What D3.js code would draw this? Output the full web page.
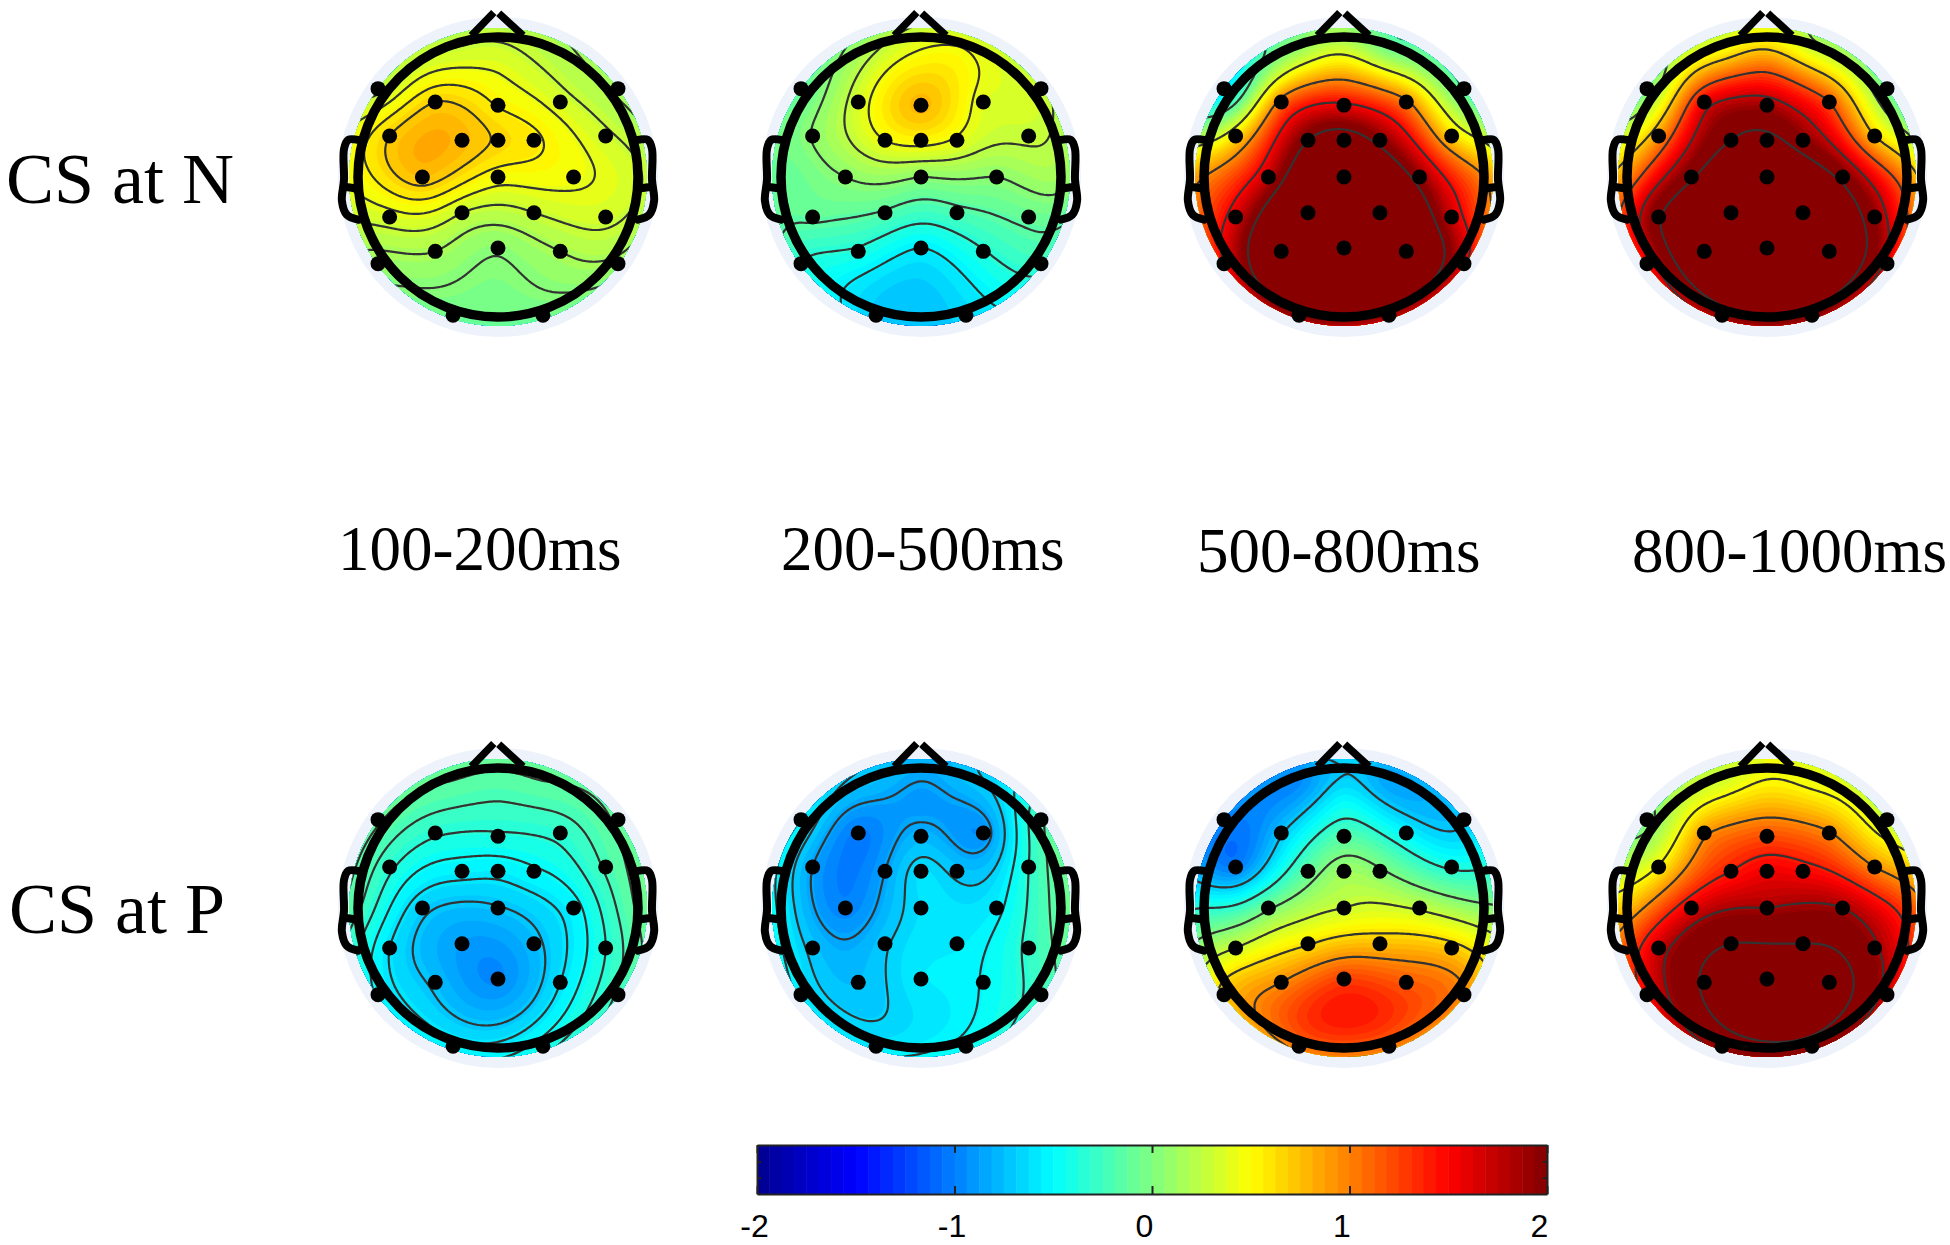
<!DOCTYPE html>
<html>
<head>
<meta charset="utf-8">
<script src="https://cdn.jsdelivr.net/npm/d3@7"></script>
<style>
  body { margin: 0; background: #fff; }
  text { fill: #000; }
</style>
</head>
<body>
<div class="canvas"></div>
<script>
// electrode sites, in head radii from the head centre (x right, y down)
const siteX = [-0.857, 0.857, -0.448, 0, 0.445, -0.774, -0.257, 0, 0.257, 0.769, -0.54, 0, 0.54, -0.774, -0.257, 0.257, 0.769, -0.448, 0, 0.445, -0.857, 0.857, -0.321, 0.321];
const siteY = [-0.631, -0.631, -0.536, -0.512, -0.536, -0.293, -0.262, -0.262, -0.262, -0.293, 0, 0, 0, 0.286, 0.255, 0.255, 0.286, 0.531, 0.507, 0.531, 0.619, 0.619, 0.988, 0.988];
// points without a dot: frontal left/right, temporal left/right, top middle
const rimX = [-0.321, 0.321, -1, 1, 0];
const rimY = [-0.95, -0.95, 0, 0, -0.78];

const rowLabels = ["CS at N", "CS at P"];
const timeLabels = ["100-200ms", "200-500ms", "500-800ms", "800-1000ms"];
const barTicks = [-2, -1, 0, 1, 2];

// one value per site, then the five points without a dot
const csN100 = [0.25, 0.13, 0.68, 0.54, 0.35, 0.68, 0.78, 0.66, 0.58, 0.32, 0.75, 0.48, 0.45, 0.36, 0.29, 0.29, 0.33, 0.16, 0.05, 0.16, 0.1, 0.12, -0.05, -0.05, 0.27, 0.22, 0.48, 0.31, 0.4];
const csN200 = [-0.1, 0.3, 0.35, 0.78, 0.38, 0.06, 0.45, 0.52, 0.42, 0.28, 0.05, 0.05, 0.05, -0.12, -0.17, -0.2, -0.1, -0.38, -0.55, -0.36, -0.35, -0.28, -0.7, -0.65, 0.2, 0.42, -0.1, 0.13, 0.58];
const csN500 = [-0.6, -0.15, 1.05, 1.55, 1, 0.6, 2.1, 2.3, 2, 0.65, 1.75, 2.7, 1.95, 1.65, 2.9, 2.9, 1.7, 2.8, 3, 2.8, 1.5, 1.6, 2, 1.9, 0.05, -0.1, 0.95, 0.95, 0.68];
const csN800 = [0, -0.05, 1.55, 1.85, 1.2, 0.9, 2.2, 2.3, 2, 0.7, 2.15, 2.7, 2.1, 2.15, 2.9, 2.9, 1.95, 2.8, 3, 2.8, 1.5, 1.6, 1.95, 2, 0.4, 0.25, 0.95, 0.95, 1.1];
const csP100 = [-0.1, -0.1, -0.34, -0.38, -0.32, -0.33, -0.55, -0.56, -0.5, -0.22, -0.68, -0.73, -0.53, -0.6, -0.88, -0.76, -0.36, -0.75, -0.95, -0.6, -0.5, -0.22, -0.55, -0.42, -0.1, -0.1, -0.22, -0.1, -0.23];
const csP200 = [-0.52, -0.2, -1.02, -0.78, -0.92, -0.85, -0.85, -0.62, -0.72, -0.34, -0.98, -0.62, -0.55, -0.72, -0.7, -0.57, -0.3, -0.75, -0.57, -0.5, -0.55, -0.25, -0.58, -0.46, -0.72, -0.72, -0.55, -0.1, -0.9];
const csP500 = [-0.95, -0.7, -0.72, -0.18, -0.52, -1, -0.12, 0.12, 0.03, -0.38, -0.03, 0.3, 0.27, 0.3, 0.6, 0.75, 0.7, 0.95, 1.25, 1.15, 0.7, 0.95, 1.05, 1.05, -0.95, -0.85, -0.35, 0.05, -0.52];
const csP800 = [0, 0.3, 0.9, 1.2, 0.97, 0.52, 1.4, 1.55, 1.5, 0.95, 1.6, 1.85, 1.85, 1.7, 2.3, 2.3, 1.9, 2.35, 2.6, 2.55, 1.5, 1.7, 2, 2.1, 0.3, 0.4, 0.75, 1.25, 0.7];

// contour levels of each map
const levelsN100 = [0.03, 0.16, 0.29, 0.42, 0.55, 0.68];
const levelsN200 = [-0.55, -0.35, -0.15, 0.05, 0.25, 0.45];
const levelsN500 = [-0.15, 0.4, 0.95, 1.5, 2.1];
const levelsN800 = [0.2, 0.7, 1.2, 1.7, 2.2];
const levelsP100 = [-0.72, -0.6, -0.48, -0.36, -0.24, -0.12];
const levelsP200 = [-0.85, -0.68, -0.51, -0.34, -0.17];
const levelsP500 = [-0.7, -0.35, 0, 0.3, 0.62, 0.95];
const levelsP800 = [0.05, 0.5, 0.95, 1.4, 1.85, 2.3];

const maps = [
  { row: 0, col: 0, values: csN100, levels: levelsN100 },
  { row: 0, col: 1, values: csN200, levels: levelsN200 },
  { row: 0, col: 2, values: csN500, levels: levelsN500 },
  { row: 0, col: 3, values: csN800, levels: levelsN800 },
  { row: 1, col: 0, values: csP100, levels: levelsP100 },
  { row: 1, col: 1, values: csP200, levels: levelsP200 },
  { row: 1, col: 2, values: csP500, levels: levelsP500 },
  { row: 1, col: 3, values: csP800, levels: levelsP800 },
];

const dims = { width: 1950, height: 1245, radius: 140 };
const colX = d3.scalePoint().domain([0, 1, 2, 3]).range([498, 1767]);
const rowY = d3.scalePoint().domain([0, 1]).range([177, 908]);

const svg = d3
  .select(".canvas")
  .append("svg")
  .attr("width", dims.width)
  .attr("height", dims.height)
  .style("display", "block");

const defs = svg.append("defs");
defs
  .append("clipPath")
  .attr("id", "disc")
  .append("circle")
  .attr("r", 149);

// jet, cut into 64 flat steps like the matlab colormap
const jet = d3
  .scaleLinear()
  .domain([-2, -1.5, -0.5, 0.5, 1.5, 2])
  .range(["#00008f", "#0000ff", "#00ffff", "#ffff00", "#ff0000", "#800000"])
  .clamp(true);
const steps = 64;
const stepEdges = d3.range(steps).map((i) => -2 + (i * 4) / steps);
const stepColor = (edge) => jet(edge + 2 / steps);

// biharmonic spline, same idea as griddata v4 that eeglab topoplot uses
const green = (r) => (r > 0 ? r * r * (Math.log(r) - 1) : 0);

const solve = (A, b) => {
  const n = b.length;
  const M = A.map((row, i) => [...row, b[i]]);
  for (let c = 0; c < n; c++) {
    let p = c;
    for (let r = c + 1; r < n; r++) {
      if (Math.abs(M[r][c]) > Math.abs(M[p][c])) p = r;
    }
    [M[c], M[p]] = [M[p], M[c]];
    for (let r = c + 1; r < n; r++) {
      const f = M[r][c] / M[c][c];
      for (let k = c; k <= n; k++) M[r][k] -= f * M[c][k];
    }
  }
  const w = new Array(n).fill(0);
  for (let r = n - 1; r >= 0; r--) {
    let s = M[r][n];
    for (let k = r + 1; k < n; k++) s -= M[r][k] * w[k];
    w[r] = s / M[r][r];
  }
  return w;
};

const allX = [...siteX, ...rimX];
const allY = [...siteY, ...rimY];
const gridN = 170;
const gridExtent = 1.1;
const gridToUnit = d3.scaleLinear().domain([0, gridN - 1]).range([-gridExtent, gridExtent]);

const makeField = (values) => {
  const G = allX.map((xi, i) =>
    allX.map((xj, j) => green(Math.hypot(xi - xj, allY[i] - allY[j])))
  );
  const w = solve(G, values);
  const field = new Float64Array(gridN * gridN);
  for (let j = 0; j < gridN; j++) {
    for (let i = 0; i < gridN; i++) {
      const u = gridToUnit(i);
      const v = gridToUnit(j);
      let z = 0;
      for (let k = 0; k < w.length; k++) {
        z += w[k] * green(Math.hypot(u - allX[k], v - allY[k]));
      }
      field[j * gridN + i] = z;
    }
  }
  return field;
};

const unit = d3.scaleLinear().domain([-1, 1]).range([-dims.radius, dims.radius]);
const cell = (unit(gridExtent) - unit(-gridExtent)) / (gridN - 1);
const gridPath = d3.geoPath(
  d3.geoIdentity().scale(cell).translate([unit(-gridExtent) - cell / 2, unit(-gridExtent) - cell / 2])
);

const headLine = d3
  .line()
  .x((d) => unit(d[0]))
  .y((d) => unit(d[1]))
  .curve(d3.curveCatmullRom.alpha(0.5));

// head outline pieces
const noseLeft = [[-0.19, -1.01], [-0.03, -1.175]];
const noseRight = [[0.005, -1.17], [0.179, -1.01]];
const earLeft = [[-1.0, -0.265], [-1.07, -0.265], [-1.1, -0.2], [-1.1, 0.02], [-1.115, 0.17], [-1.08, 0.27], [-1.0, 0.305]];
const earLeftBridge = [[-1.1, 0.07], [-1.02, 0.08]];
const mirror = (pts) => pts.map((d) => [-d[0], d[1]]);

maps.forEach((m) => {
  const g = svg
    .append("g")
    .attr("transform", `translate(${colX(m.col)}, ${rowY(m.row)})`);

  g.append("circle").attr("r", 160).attr("fill", "#eef3fb");

  const field = makeField(m.values);
  const contours = d3.contours().size([gridN, gridN]);
  const disc = g.append("g").attr("clip-path", "url(#disc)");

  disc
    .selectAll("path.band")
    .data(contours.thresholds([-99, ...stepEdges.slice(1)])(field))
    .enter()
    .append("path")
    .attr("class", "band")
    .attr("d", gridPath)
    .attr("fill", (d) => stepColor(d.value === -99 ? -2 : d.value));

  disc
    .selectAll("path.level")
    .data(contours.thresholds(m.levels)(field))
    .enter()
    .append("path")
    .attr("class", "level")
    .attr("d", gridPath)
    .attr("fill", "none")
    .attr("stroke", "#333")
    .attr("stroke-width", 2.2);

  g.append("circle")
    .attr("r", dims.radius)
    .attr("fill", "none")
    .attr("stroke", "#000")
    .attr("stroke-width", 9.5);

  [noseLeft, noseRight].forEach((pts) => {
    g.append("path")
      .attr("d", headLine(pts))
      .attr("fill", "none")
      .attr("stroke", "#000")
      .attr("stroke-width", 7.5);
  });
  [earLeft, mirror(earLeft), earLeftBridge, mirror(earLeftBridge)].forEach((pts) => {
    g.append("path")
      .attr("d", headLine(pts))
      .attr("fill", "none")
      .attr("stroke", "#000")
      .attr("stroke-width", 8)
      .attr("stroke-linecap", "round");
  });

  g.selectAll("circle.site")
    .data(siteX)
    .enter()
    .append("circle")
    .attr("class", "site")
    .attr("cx", (d) => unit(d))
    .attr("cy", (d, i) => unit(siteY[i]))
    .attr("r", 7.5)
    .attr("fill", "#000");
});

// titles
const labelY = d3.scaleOrdinal().domain(rowLabels).range([203, 933]);
const labelX = d3.scaleOrdinal().domain(rowLabels).range([6, 9]);
svg
  .selectAll("text.row")
  .data(rowLabels)
  .enter()
  .append("text")
  .attr("class", "row")
  .attr("x", (d) => labelX(d))
  .attr("y", (d) => labelY(d))
  .attr("font-family", "'Liberation Serif'")
  .attr("font-size", 72)
  .text((d) => d);

const timeX = d3.scaleOrdinal().domain(timeLabels).range([338, 781, 1197, 1632]);
const timeY = d3.scaleOrdinal().domain(timeLabels).range([570, 570, 572, 572]);
svg
  .selectAll("text.time")
  .data(timeLabels)
  .enter()
  .append("text")
  .attr("class", "time")
  .attr("x", (d) => timeX(d))
  .attr("y", (d) => timeY(d))
  .attr("font-family", "'Liberation Serif'")
  .attr("font-size", 63)
  .text((d) => d);

// colour bar
const bar = { x0: 757, x1: 1547, y0: 1145, y1: 1194 };
const barX = d3.scaleLinear().domain([-2, 2]).range([bar.x0, bar.x1]);
const barY = d3.scaleLinear().domain([0, 3]).range([bar.y1, bar.y0]);

svg
  .selectAll("rect.step")
  .data(stepEdges)
  .enter()
  .append("rect")
  .attr("class", "step")
  .attr("x", (d) => barX(d))
  .attr("y", bar.y0)
  .attr("width", barX(-2 + 4 / steps) - barX(-2) + 0.5)
  .attr("height", bar.y1 - bar.y0)
  .attr("fill", (d) => stepColor(d));

const styleAxis = (sel) => {
  sel.selectAll("path, line").attr("stroke", "#222").attr("stroke-width", 2);
  sel
    .selectAll("text")
    .attr("font-family", "'Liberation Sans'")
    .attr("font-size", 32)
    .attr("fill", "#222")
    .attr("dx", (d) => (d < 0 ? -3 : -8));
};

svg
  .append("g")
  .attr("transform", `translate(0, ${bar.y1})`)
  .call(d3.axisBottom(barX).tickValues(barTicks).tickSize(-8).tickSizeOuter(0).tickPadding(20).tickFormat((d) => `${d}`))
  .call(styleAxis);
svg
  .append("g")
  .attr("transform", `translate(0, ${bar.y0})`)
  .call(d3.axisTop(barX).tickValues(barTicks).tickSize(-8).tickSizeOuter(0).tickFormat(""))
  .call(styleAxis);
svg
  .append("g")
  .attr("transform", `translate(${bar.x0}, 0)`)
  .call(d3.axisLeft(barY).tickValues([1, 2]).tickSize(-4).tickSizeOuter(0).tickFormat(""))
  .call(styleAxis);
svg
  .append("g")
  .attr("transform", `translate(${bar.x1}, 0)`)
  .call(d3.axisRight(barY).tickValues([1, 2]).tickSize(-4).tickSizeOuter(0).tickFormat(""))
  .call(styleAxis);
</script>
</body>
</html>
